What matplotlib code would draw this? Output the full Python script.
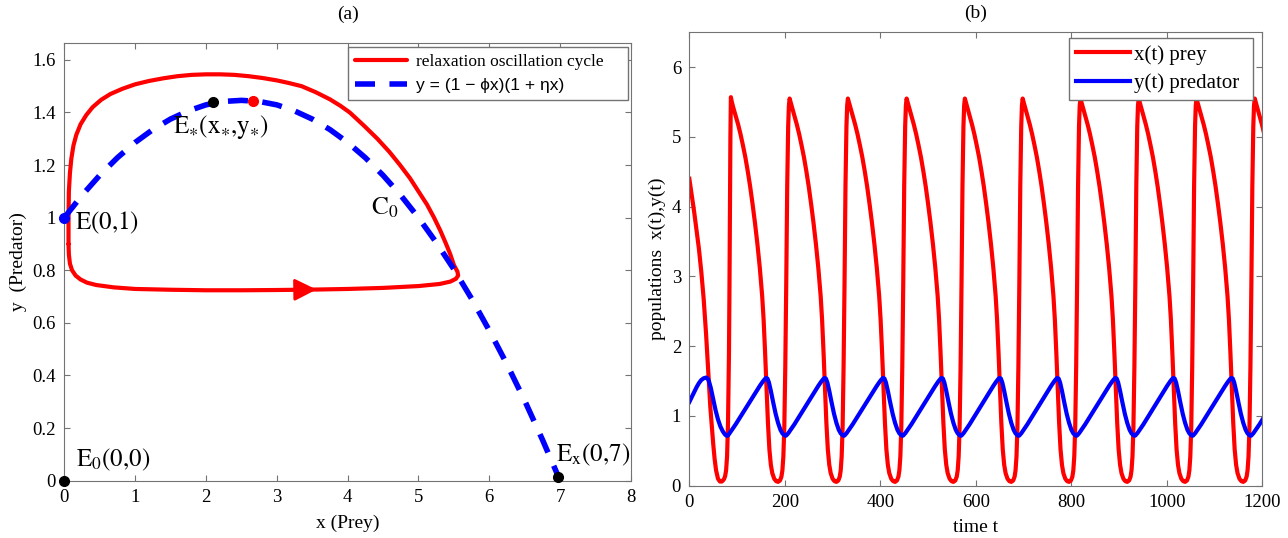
import numpy as np
import matplotlib
matplotlib.use('Agg')
import matplotlib.pyplot as plt
from matplotlib.ticker import FuncFormatter

# ---- data ----
# (a) relaxation oscillation cycle in the phase plane, traced clockwise
cyc_x = [0.06, 0.065, 0.08, 0.11, 0.16, 0.23, 0.32, 0.45, 0.7, 1.0, 1.5, 2.0, 2.5, 3.0,
         3.6, 4.0, 4.5, 5.0, 5.3, 5.45, 5.53, 5.56, 5.55,
         5.50, 5.45, 5.39, 5.31, 5.22, 5.12, 5.00, 4.88, 4.74, 4.59, 4.42, 4.23, 4.03,
         3.90, 3.75, 3.55, 3.35, 3.17, 3.00, 2.80, 2.60, 2.40, 2.20, 2.00, 1.80, 1.60,
         1.40, 1.20, 1.00, 0.82, 0.65, 0.52, 0.40, 0.31, 0.23, 0.17, 0.13, 0.10, 0.08,
         0.065, 0.06, 0.06]
cyc_y = [0.90, 0.86, 0.825, 0.80, 0.78, 0.765, 0.753, 0.744, 0.735, 0.729, 0.726, 0.724,
         0.724, 0.725, 0.727, 0.729, 0.733, 0.74, 0.748, 0.757, 0.768, 0.78, 0.795,
         0.82, 0.86, 0.90, 0.95, 1.00, 1.05, 1.10, 1.15, 1.20, 1.25, 1.30, 1.35, 1.40,
         1.425, 1.45, 1.477, 1.50, 1.512, 1.522, 1.531, 1.538, 1.543, 1.545, 1.545,
         1.543, 1.538, 1.53, 1.52, 1.507, 1.49, 1.47, 1.448, 1.42, 1.39, 1.355, 1.315,
         1.275, 1.225, 1.17, 1.10, 1.00, 0.90]
arrow_idx = 14

# dashed curve y = (1 - phi x)(1 + eta x)
par_x = [0, 0.25, 0.5, 0.75, 1.0, 1.25, 1.5, 1.75, 2.0, 2.25, 2.5, 2.75, 3.0, 3.25, 3.5,
         3.75, 4.0, 4.25, 4.5, 4.75, 5.0, 5.25, 5.5, 5.75, 6.0, 6.25, 6.5, 6.75, 7.0]
par_y = [1.0, 1.085, 1.161, 1.228, 1.286, 1.335, 1.375, 1.406, 1.429, 1.442, 1.446,
         1.442, 1.429, 1.406, 1.375, 1.335, 1.286, 1.228, 1.161, 1.085, 1.0, 0.906,
         0.804, 0.692, 0.571, 0.442, 0.304, 0.156, 0.0]

# equilibrium points
eq_x = [0.0, 2.1, 2.67, 0.0, 6.97]
eq_y = [1.0, 1.44, 1.445, 0.0, 0.015]
eq_col = ['blue', 'black', 'red', 'black', 'black']

# (b) time series: first stretch, then one cycle (offset from each x peak)
seg_t = [0, 5, 10, 15, 20, 25, 30, 35, 38, 41, 44, 47, 50, 53, 56, 60, 64, 68, 71,
         73, 75, 77, 79, 81, 83, 84, 85, 86, 87]
seg_x = [4.40, 4.17, 3.93, 3.67, 3.40, 3.07, 2.68, 2.18, 1.82, 1.45, 1.12, 0.85, 0.60,
         0.38, 0.22, 0.10, 0.06, 0.06, 0.08, 0.10, 0.14, 0.22, 0.42, 0.90, 1.90, 2.80,
         4.00, 5.00, 5.57]
seg_yt = [0, 5, 10, 15, 20, 25, 30, 35, 38, 41, 45, 50, 55, 60, 65, 70, 74, 77, 79, 81,
          84, 87]
seg_y = [1.20, 1.27, 1.34, 1.41, 1.47, 1.515, 1.54, 1.55, 1.54, 1.50, 1.40, 1.24, 1.08,
         0.95, 0.85, 0.78, 0.74, 0.72, 0.715, 0.72, 0.75, 0.78]

cyc_dt = [0, 2, 5, 10, 15, 20, 25, 30, 35, 40, 45, 50, 55, 60, 65, 68, 71, 74, 77, 80,
          83, 86, 90, 94, 98, 102, 105, 107, 109, 111, 113, 115, 117, 119, 120.5, 122]
cyc_xt = [5.55, 5.50, 5.42, 5.30, 5.18, 5.04, 4.88, 4.71, 4.51, 4.29, 4.04, 3.77, 3.47,
          3.13, 2.72, 2.38, 1.92, 1.40, 0.90, 0.52, 0.30, 0.18, 0.10, 0.065, 0.055, 0.075,
          0.13, 0.22, 0.42, 0.85, 1.70, 2.90, 4.30, 5.15, 5.45, 5.55]
cyc_ydt = [0, 10, 20, 30, 40, 50, 60, 66, 70, 73, 76, 79, 83, 88, 93, 98, 103, 107, 110,
           112, 113.5, 115, 117, 119.5, 122]
cyc_yt = [0.78, 0.88, 0.99, 1.10, 1.21, 1.32, 1.43, 1.49, 1.525, 1.545, 1.535, 1.48,
          1.36, 1.19, 1.03, 0.90, 0.80, 0.75, 0.73, 0.72, 0.715, 0.72, 0.735, 0.755, 0.78]
peak_t = [87, 210, 332, 455, 577, 698, 819, 941, 1062, 1184]

# stitch the time series together
tx, xx = list(seg_t), list(seg_x)
ty, yy = list(seg_yt), list(seg_y)
for i, p in enumerate(peak_t):
    span = peak_t[i + 1] - p if i + 1 < len(peak_t) else cyc_dt[-1]
    s = span / cyc_dt[-1]
    tx += [p + d * s for d in cyc_dt[1:]]
    xx += cyc_xt[1:]
    ty += [p + d * s for d in cyc_ydt[1:]]
    yy += cyc_yt[1:]

plt.rcParams['font.family'] = 'Liberation Serif'
plt.rcParams['mathtext.fontset'] = 'stix'
spine_c = '0.45'

fig = plt.figure(figsize=(12.88, 5.38), dpi=100)
ax1 = fig.add_axes([0.0499, 0.1065, 0.44, 0.814])
ax2 = fig.add_axes([0.5352, 0.0972, 0.4449, 0.8428])

# ---- panel (a) ----
ax1.plot(cyc_x, cyc_y, color='red', lw=3, solid_joinstyle='round',
         solid_capstyle='round', label='relaxation oscillation cycle')
ax1.plot(par_x, par_y, color='blue', lw=4, dashes=(3.6, 2.6),
         label='y = (1 − ϕx)(1 + ηx)')
ax1.annotate('', xy=(cyc_x[arrow_idx], cyc_y[arrow_idx]),
             xytext=(cyc_x[arrow_idx - 1], cyc_y[arrow_idx - 1]),
             arrowprops=dict(arrowstyle='-|>,head_length=0.9,head_width=0.45',
                             color='red', lw=2, mutation_scale=15))
for px, py, c in zip(eq_x, eq_y, eq_col):
    ax1.plot(px, py, 'o', color=c, ms=7, zorder=5, clip_on=False)

ax1.text(0.15, 0.955, r'$\mathrm{E(0{,}1)}$', fontsize=18)
ax1.text(1.54, 1.321, r'$\mathrm{E}_{\ast}(\mathrm{x}_{\ast}{,}\mathrm{y}_{\ast})$',
         fontsize=18)
ax1.text(4.33, 1.011, r'$\mathrm{C}_0$', fontsize=18)
ax1.text(0.17, 0.056, r'$\mathrm{E}_0(0{,}0)$', fontsize=18)
ax1.text(6.94, 0.075, r'$\mathrm{E}_\mathrm{x}(0{,}7)$', fontsize=18)

ax1.set_xlim(0, 8)
ax1.set_ylim(0, 1.665)
ax1.set_xticks(range(0, 9))
ax1.set_yticks(np.arange(0, 1.61, 0.2))
ax1.yaxis.set_major_formatter(FuncFormatter(lambda v, p: '%g' % round(v, 1)))
ax1.set_xlabel('x (Prey)', fontsize=14, labelpad=6)
ax1.set_ylabel('y  (Predator)', fontsize=14)
ax1.set_title('(a)', fontsize=14, pad=17)
leg1 = ax1.legend(loc='upper left', bbox_to_anchor=(0.501, 0.8909, 0.494, 0.1),
                  mode='expand', borderaxespad=0,
                  fontsize=12.5, handlelength=3.0, handletextpad=0.5,
                  labelspacing=0.44, fancybox=False, framealpha=1, borderpad=0.4)
leg1.get_frame().set_edgecolor(spine_c)
leg1.get_texts()[1].set_family('Liberation Sans')

# ---- panel (b) ----
ax2.plot(tx, xx, color='red', lw=3, label='x(t) prey')
ax2.plot(ty, yy, color='blue', lw=3, label='y(t) predator')
ax2.set_xlim(0, 1200)
ax2.set_ylim(0, 6.5)
ax2.set_xticks(range(0, 1201, 200))
ax2.set_yticks(range(0, 7))
ax2.set_xlabel('time t', fontsize=14, labelpad=6)
ax2.set_ylabel('populations  x(t),y(t)', fontsize=14)
ax2.set_title('(b)', fontsize=14, pad=10)
leg2 = ax2.legend(loc='upper left', bbox_to_anchor=(0.6627, 0.888, 0.3211, 0.1),
                  mode='expand', borderaxespad=0,
                  fontsize=15, handlelength=2.55, handletextpad=0.2,
                  labelspacing=0.41, fancybox=False, framealpha=1, borderpad=0.35)
leg2.get_frame().set_edgecolor(spine_c)

for ax in (ax1, ax2):
    ax.tick_params(direction='in', top=True, right=True, length=4, width=0.8,
                   color=spine_c, labelsize=13.5, pad=6)
    for sp in ax.spines.values():
        sp.set_color(spine_c)
        sp.set_linewidth(0.8)

fig.savefig('out.png', dpi=100)
